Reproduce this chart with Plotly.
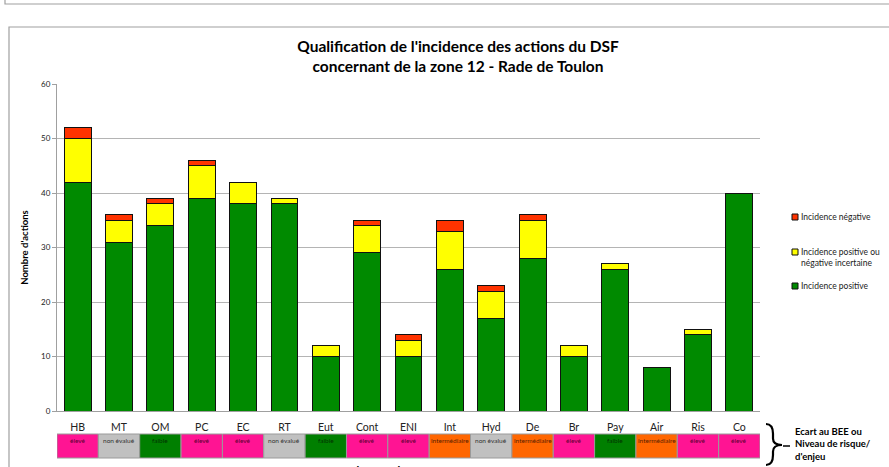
import plotly.graph_objects as go

# Thèmes (axe des catégories)
categories = ["HB", "MT", "OM", "PC", "EC", "RT", "Eut", "Cont", "ENI",
              "Int", "Hyd", "De", "Br", "Pay", "Air", "Ris", "Co"]

# Nombre d'actions par type d'incidence
incidence_positive = [42, 31, 34, 39, 38, 38, 10, 29, 10, 26, 17, 28, 10, 26, 8, 14, 40]
incidence_incertaine = [8, 4, 4, 6, 4, 1, 2, 5, 3, 7, 5, 7, 2, 1, 0, 1, 0]
incidence_negative = [2, 1, 1, 1, 0, 0, 0, 1, 1, 2, 1, 1, 0, 0, 0, 0, 0]

# Ecart au BEE / niveau de risque par thème
niveaux = ["élevé", "non évalué", "faible", "élevé", "élevé", "non évalué", "faible",
           "élevé", "élevé", "intermédiaire", "non évalué", "intermédiaire",
           "élevé", "faible", "intermédiaire", "élevé", "élevé"]
niveau_couleurs = {"élevé": "#FF1493", "non évalué": "#C0C0C0",
                   "faible": "#007F00", "intermédiaire": "#FF6600"}
niveau_texte = {"élevé": "#5A0030", "non évalué": "#333333",
                "faible": "#003300", "intermédiaire": "#5A2000"}

W, H = 889, 467
L, R, T, B = 57, 760, 84, 411  # plot area in pixels


def px(x, y):
    """Pixel position -> paper coordinates."""
    return (x - L) / (R - L), (B - y) / (B - T)


FONT = "Lato"
fig = go.Figure()

series = [
    ("Incidence positive", incidence_positive, "#008A00"),
    ("Incidence positive ou<br>négative incertaine", incidence_incertaine, "#FFFF00"),
    ("Incidence négative", incidence_negative, "#FF3300"),
]
for name, vals, col in series:
    fig.add_trace(go.Bar(
        x=categories, y=vals, name=name, showlegend=False,
        marker=dict(color=col, line=dict(color="#111111", width=1)),
    ))

shapes = []
annotations = []

# Légende (carrés + libellés), du haut vers le bas
legend_rows = [(series[2], 217, 217), (series[1], 252, 257), (series[0], 286, 286)]
for (name, _, col), sq_y, txt_y in legend_rows:
    x0, y0 = px(792, sq_y - 3)
    x1, y1 = px(798, sq_y + 3)
    shapes.append(dict(type="rect", xref="paper", yref="paper",
                       x0=x0, x1=x1, y0=y1, y1=y0, fillcolor=col,
                       line=dict(color="#111111", width=1)))
    tx, ty = px(799, txt_y)
    annotations.append(dict(x=tx, y=ty, xref="paper", yref="paper",
                            xanchor="left", yanchor="middle", align="left",
                            showarrow=False, text=name,
                            font=dict(family=FONT, size=8.5, color="#222222")))

# Bandeau des niveaux sous l'axe
y_top = px(0, 434)[1]
y_bot = px(0, 458)[1]
for i, niv in enumerate(niveaux):
    shapes.append(dict(type="rect", xref="x", yref="paper",
                       x0=i - 0.5, x1=i + 0.5, y0=y_bot, y1=y_top,
                       fillcolor=niveau_couleurs[niv],
                       line=dict(color="#9A9A9A", width=1)))
    annotations.append(dict(x=categories[i], xref="x", yref="paper",
                            y=(y_top + y_bot) / 2, text=niv, showarrow=False,
                            font=dict(family=FONT, size=6.5,
                                      color=niveau_texte[niv])))

# Accolade à droite du bandeau
bx0, by0 = px(766, 424)
bx1, by1 = px(780, 465)
bxm, bym = px(773, 445)
bxt, _ = px(782, 445)
shapes.append(dict(
    type="path", xref="paper", yref="paper",
    path=(f"M {bx0},{by0} Q {bxm},{by0} {bxm},{(by0 + bym) / 2 + 0.002} "
          f"L {bxm},{bym + 0.02} Q {bxm},{bym} {bxt},{bym} "
          f"Q {bxm},{bym} {bxm},{bym - 0.02} "
          f"L {bxm},{(by1 + bym) / 2} Q {bxm},{by1} {bx0},{by1}"),
    line=dict(color="#000000", width=2.2)))
lx0, ly = px(783, 446)
lx1, _ = px(790, 446)
shapes.append(dict(type="line", xref="paper", yref="paper",
                   x0=lx0, x1=lx1, y0=ly, y1=ly,
                   line=dict(color="#000000", width=1.5)))
tx, ty = px(793, 444)
annotations.append(dict(x=tx, y=ty, xref="paper", yref="paper",
                        xanchor="left", yanchor="middle", align="left",
                        showarrow=False,
                        text="<b>Ecart au BEE ou<br>Niveau de risque/<br>d'enjeu</b>",
                        font=dict(family=FONT, size=9.5, color="#000000")))

# Légende de l'axe des x (en partie hors cadre)
ex, ey = px(408, 462)
annotations.append(dict(x=ex, y=ey, xref="paper", yref="paper",
                        xanchor="center", yanchor="top", showarrow=False,
                        text="<b>Enjeux environnementaux</b>",
                        font=dict(family=FONT, size=11, color="#000000")))

# Cadres
fx0, fy0 = px(9, 27)
fx1, fy1 = px(895, 480)
shapes.append(dict(type="rect", xref="paper", yref="paper",
                   x0=fx0, x1=fx1, y0=fy1, y1=fy0,
                   line=dict(color="#A0A0A0", width=1.2), layer="below"))
gx0, gy0 = px(5, -20)
gx1, gy1 = px(895, 4)
shapes.append(dict(type="rect", xref="paper", yref="paper",
                   x0=gx0, x1=gx1, y0=gy1, y1=gy0,
                   line=dict(color="#A0A0A0", width=1.2), layer="below"))

fig.update_layout(
    width=W, height=H,
    margin=dict(l=L, r=W - R, t=T, b=H - B, autoexpand=False),
    paper_bgcolor="white", plot_bgcolor="white",
    barmode="stack", bargap=0.35, showlegend=False,
    font=dict(family=FONT, color="#222222"),
    title=dict(
        text="<b>Qualification de l'incidence des actions du DSF<br>"
             "concernant de la zone 12 - Rade de Toulon</b>",
        x=px(458, 0)[0], xref="paper", xanchor="center",
        y=1 - 52 / H, yanchor="middle",
        font=dict(family=FONT, size=15.5, color="#000000"),
    ),
    xaxis=dict(
        showline=True, linecolor="#A0A0A0", linewidth=1,
        ticks="", tickfont=dict(family=FONT, size=10.5, color="#222222"),
        ticklabelstandoff=6, showgrid=False,
        range=[-0.5, len(categories) - 0.5],
    ),
    yaxis=dict(
        range=[0, 60], dtick=10,
        showline=True, linecolor="#A0A0A0", linewidth=1,
        ticks="outside", ticklen=4, tickcolor="#A0A0A0",
        showgrid=True, gridcolor="#B4B4B4", gridwidth=1,
        tickfont=dict(family=FONT, size=8, color="#222222"),
        title=dict(text="<b>Nombre d'actions</b>", standoff=10,
                   font=dict(family=FONT, size=9.5, color="#000000")),
        zeroline=False,
    ),
    shapes=shapes,
    annotations=annotations,
)

fig.write_html("out.html")
